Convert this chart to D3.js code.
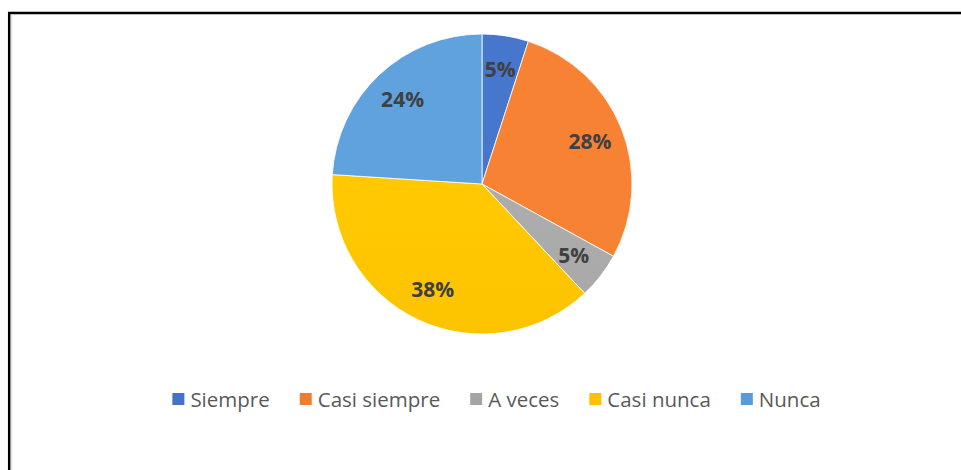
<!DOCTYPE html>
<html>
<head>
<meta charset="utf-8">
<script src="https://cdn.jsdelivr.net/npm/d3@7/dist/d3.min.js"></script>
<style>
  html, body { margin: 0; padding: 0; background: #fff; }
  svg { display: block; }
</style>
</head>
<body>
<svg id="chart" width="961" height="470"></svg>
<script>
// Survey responses (percent)
const categories = ["Siempre", "Casi siempre", "A veces", "Casi nunca", "Nunca"];
const values = [5, 28, 5, 38, 24];
const colors = ["#4472C4", "#ED7D31", "#A5A5A5", "#FFC000", "#5B9BD5"];

const W = 961, H = 470;
const cx = 482, cy = 184, R = 150, labelR = 116;

const svg = d3.select("#chart");

// Frame: top and left rules
svg.append("line").attr("x1", 8).attr("x2", W).attr("y1", 13).attr("y2", 13)
  .attr("stroke", "#000").attr("stroke-width", 2.5);
svg.append("line").attr("x1", 9.2).attr("x2", 9.2).attr("y1", 12).attr("y2", H)
  .attr("stroke", "#000").attr("stroke-width", 2.5);
svg.append("line").attr("x1", 11.5).attr("x2", 11.5).attr("y1", 14.5).attr("y2", H)
  .attr("stroke", "#e2e2e2").attr("stroke-width", 1.2);

// Vertical shading per slice colour
const defs = svg.append("defs");
colors.forEach((c, i) => {
  const g = defs.append("linearGradient")
    .attr("id", "grad" + i)
    .attr("gradientUnits", "userSpaceOnUse")
    .attr("x1", 0).attr("x2", 0)
    .attr("y1", cy - R).attr("y2", cy + R);
  g.append("stop").attr("offset", "0%").attr("stop-color", d3.color(c).brighter(0.12).formatHex());
  g.append("stop").attr("offset", "100%").attr("stop-color", d3.color(c).darker(0.08).formatHex());
});

const pie = d3.pie().sort(null).value(d => d.value);
const data = categories.map((name, i) => ({ name, value: values[i], i }));
const arcs = pie(data);
const arc = d3.arc().innerRadius(0).outerRadius(R);
const labelArc = d3.arc().innerRadius(labelR).outerRadius(labelR);

const g = svg.append("g").attr("transform", `translate(${cx},${cy})`);

g.selectAll("path.slice")
  .data(arcs)
  .join("path")
  .attr("class", "slice")
  .attr("d", arc)
  .attr("fill", d => `url(#grad${d.data.i})`)
  .attr("stroke", "#ffffff")
  .attr("stroke-width", 0.8);

g.selectAll("text.pct")
  .data(arcs)
  .join("text")
  .attr("class", "pct")
  .attr("transform", d => `translate(${labelArc.centroid(d)})`)
  .attr("text-anchor", "middle")
  .attr("dominant-baseline", "central")
  .attr("font-family", "'Open Sans', sans-serif")
  .attr("font-weight", "bold")
  .attr("font-size", 21)
  .attr("fill", "#404040")
  .text(d => d.data.value + "%");

// Legend, centred below the pie
const legendY = 399;
const sw = 12, gapText = 6, gapItem = 30;
const legend = svg.append("g");
const items = legend.selectAll("g.item").data(data).join("g").attr("class", "item");
items.append("rect")
  .attr("width", sw).attr("height", sw)
  .attr("y", legendY - sw / 2)
  .attr("fill", d => colors[d.i]);
items.append("text")
  .attr("x", sw + gapText)
  .attr("y", legendY)
  .attr("dominant-baseline", "central")
  .attr("font-family", "'Open Sans', sans-serif")
  .attr("font-size", 20.5)
  .attr("fill", "#595959")
  .text(d => d.name);

let x = 0;
const widths = [];
items.each(function () {
  const tw = d3.select(this).select("text").node().getComputedTextLength();
  widths.push(sw + gapText + tw);
});
const total = d3.sum(widths) + gapItem * (widths.length - 1);
x = (175 + 818) / 2 - total / 2;
items.attr("transform", (d, i) => {
  const t = `translate(${x},0)`;
  x += widths[i] + gapItem;
  return t;
});
</script>
</body>
</html>
